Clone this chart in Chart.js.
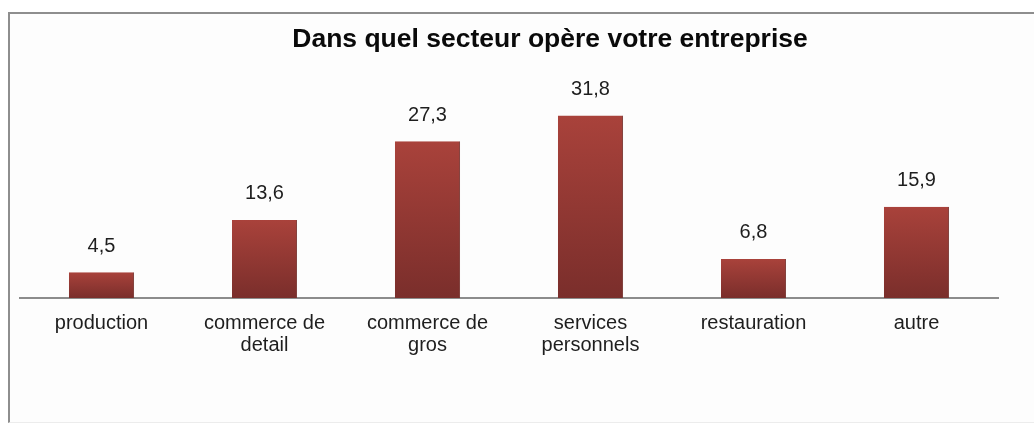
<!DOCTYPE html>
<html lang="fr">
<head>
  <meta charset="UTF-8">
  <title>Dans quel secteur opère votre entreprise</title>
  <script src="https://cdn.jsdelivr.net/npm/chart.js"></script>
  <style>
    * {
      box-sizing: border-box;
    }

    body {
      margin: 0;
      padding: 0;
      background: #ffffff;
      font-family: 'Liberation Sans', Arial, sans-serif;
    }

    .frame {
      position: absolute;
      left: 8px;
      top: 12px;
      width: 1026px;
      height: 411px;
      border-left: 2px solid #8e8e8e;
      border-top: 2px solid #8e8e8e;
      border-bottom: 1px solid #ececec;
      background: #fdfdfd;
    }

    .frame canvas {
      display: block;
    }
  </style>
</head>
<body>
<div class="frame">
  <canvas id="sectorChart" width="1024" height="408"></canvas>
</div>

<script>
  const titleText = 'Dans quel secteur opère votre entreprise';
  const sectors = [
    'production',
    ['commerce de', 'detail'],
    ['commerce de', 'gros'],
    ['services', 'personnels'],
    'restauration',
    'autre'
  ];
  const shares = [4.5, 13.6, 27.3, 31.8, 6.8, 15.9];

  // Each bar gets its own vertical gradient, light red on top, darker at the base
  function barFill(ctx) {
    const chart = ctx.chart;
    const area = chart.chartArea;
    if (!area || ctx.type !== 'data') return '#94352f';
    const yScale = chart.scales.y;
    const top = yScale.getPixelForValue(ctx.raw);
    const base = yScale.getPixelForValue(0);
    const g = chart.ctx.createLinearGradient(0, top, 0, base);
    g.addColorStop(0, '#a9423b');
    g.addColorStop(1, '#7a2e2b');
    return g;
  }

  // Values written above the bars, with a comma as decimal mark
  const valueLabels = {
    id: 'valueLabels',
    afterDatasetsDraw(chart) {
      const { ctx } = chart;
      const meta = chart.getDatasetMeta(0);
      ctx.save();
      ctx.font = '20px "Liberation Sans", Arial, sans-serif';
      ctx.fillStyle = '#1e1e1e';
      ctx.textAlign = 'center';
      ctx.textBaseline = 'middle';
      meta.data.forEach((bar, i) => {
        ctx.fillText(shares[i].toFixed(1).replace('.', ','), bar.x, bar.y - 26);
      });
      ctx.restore();
    }
  };

  // Title sits a little right of the plot centre
  const sideTitle = {
    id: 'sideTitle',
    afterDraw(chart) {
      const { ctx } = chart;
      ctx.save();
      ctx.font = 'bold 26.5px "Liberation Sans", Arial, sans-serif';
      ctx.fillStyle = '#0a0a0a';
      ctx.textAlign = 'center';
      ctx.textBaseline = 'middle';
      ctx.fillText(titleText, 540, 26);
      ctx.restore();
    }
  };

  const ctx = document.getElementById('sectorChart').getContext('2d');
  new Chart(ctx, {
    type: 'bar',
    data: {
      labels: sectors,
      datasets: [{
        data: shares,
        backgroundColor: barFill,
        borderColor: '#74302c',
        borderWidth: { left: 0, right: 1, top: 0, bottom: 0 },
        categoryPercentage: 0.4,
        barPercentage: 1
      }]
    },
    options: {
      responsive: false,
      animation: false,
      devicePixelRatio: 1,
      layout: {
        padding: { left: 10, right: 36, top: 83, bottom: 52 }
      },
      plugins: {
        legend: { display: false },
        tooltip: { enabled: false },
        title: { display: false }
      },
      scales: {
        x: {
          grid: { display: false, drawTicks: false },
          border: { display: true, color: '#8c8c8c', width: 2 },
          ticks: {
            color: '#1e1e1e',
            padding: 14,
            maxRotation: 0,
            autoSkip: false,
            font: { family: '"Liberation Sans", Arial, sans-serif', size: 20, lineHeight: 1.1 }
          }
        },
        y: {
          display: false,
          min: 0,
          max: 35
        }
      }
    },
    plugins: [valueLabels, sideTitle]
  });
</script>
</body>
</html>
